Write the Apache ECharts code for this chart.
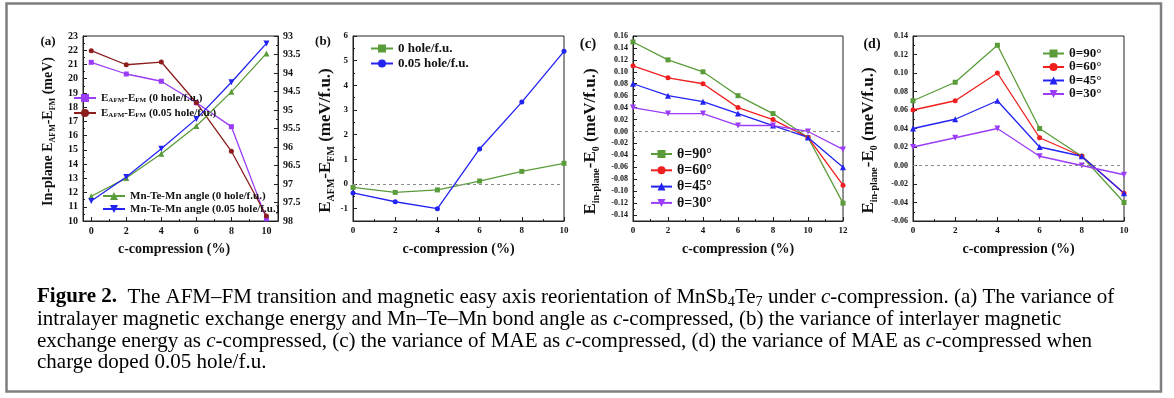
<!DOCTYPE html>
<html><head><meta charset="utf-8">
<script src="https://cdn.jsdelivr.net/npm/echarts@6/dist/echarts.min.js"></script>
<style>html,body{margin:0;padding:0;background:#fff}#c{width:1174px;height:398px}</style>
</head><body><div id="c"></div><script>
// ---------- data ----------
const compA = [0, 2, 4, 6, 8, 10];
const eAfm0 = [21.15, 20.33, 19.82, 18.31, 16.63, 10.15];
const eAfm005 = [21.97, 20.98, 21.17, 18.31, 14.9, 10.35];
const angle0 = [97.33, 96.84, 96.18, 95.43, 94.51, 93.47];
const angle005 = [97.46, 96.81, 96.05, 95.24, 94.25, 93.2];

const compB = [0, 2, 4, 6, 8, 10];
const inter0 = [-0.14, -0.34, -0.24, 0.12, 0.51, 0.84];
const inter005 = [-0.36, -0.72, -1.0, 1.42, 3.32, 5.38];

const compC = [0, 2, 4, 6, 8, 10, 12];
const maeC90 = [0.15, 0.12, 0.10, 0.06, 0.03, -0.01, -0.12];
const maeC60 = [0.11, 0.09, 0.08, 0.04, 0.02, -0.01, -0.09];
const maeC45 = [0.08, 0.06, 0.05, 0.03, 0.01, -0.01, -0.06];
const maeC30 = [0.04, 0.03, 0.03, 0.01, 0.01, 0.00, -0.03];

const compD = [0, 2, 4, 6, 8, 10];
const maeD90 = [0.07, 0.09, 0.13, 0.04, 0.01, -0.04];
const maeD60 = [0.06, 0.07, 0.10, 0.03, 0.01, -0.03];
const maeD45 = [0.04, 0.05, 0.07, 0.02, 0.01, -0.03];
const maeD30 = [0.02, 0.03, 0.04, 0.01, 0.00, -0.01];

const xAxisTitle = 'c-compression (%)';
const panelLabels = ['(a)', '(b)', '(c)', '(d)'];
const angleLabels = ['θ=90°', 'θ=60°', 'θ=45°', 'θ=30°'];
const captionLines = [
  [['b', 'Figure 2.'], ['r', '  The AFM–FM transition and magnetic easy axis reorientation of MnSb'], ['s', '4'], ['r', 'Te'], ['s', '7'], ['r', ' under '], ['i', 'c'], ['r', '-compression. (a) The variance of']],
  [['r', 'intralayer magnetic exchange energy and Mn–Te–Mn bond angle as '], ['i', 'c'], ['r', '-compressed, (b) the variance of interlayer magnetic']],
  [['r', 'exchange energy as '], ['i', 'c'], ['r', '-compressed, (c) the variance of MAE as '], ['i', 'c'], ['r', '-compressed, (d) the variance of MAE as '], ['i', 'c'], ['r', '-compressed when']],
  [['r', 'charge doped 0.05 hole/f.u.']]
];

// ---------- styling ----------
const FONT = '"Liberation Serif","Times New Roman",serif';
const GREEN = '#5a9c3a', RED = '#f01e1e', BLUE = '#2323f2', PURPLE = '#9b3cf8', DARKRED = '#8b1d1d';
const DOWN = 'path://M0,0 L10,0 L5,9 Z';
const INK = '#111';

function zip(xs, ys) { return xs.map((x, i) => [x, ys[i]]); }
function onStep(step) {
  return v => { const k = Math.round(v / step); return Math.abs(k * step - v) < 1e-7 ? (step < 1 ? (k * step).toFixed(2) : String(Math.round(k * step))) : ''; };
}
const axisCommon = (labelSize) => ({
  type: 'value',
  axisLine: { show: true, onZero: false, lineStyle: { color: '#222', width: 1 } },
  axisTick: { show: true, inside: true, length: 4, lineStyle: { color: '#222' } },
  minorTick: { show: true, splitNumber: 2, length: 2, lineStyle: { color: '#222' } },
  axisLabel: { fontFamily: FONT, fontWeight: 'bold', fontSize: labelSize, color: INK, margin: 5 },
  splitLine: { show: false }, minorSplitLine: { show: false }
});
function xAx(gi, extra) {
  const a = axisCommon(9);
  return Object.assign(a, {
    gridIndex: gi, name: xAxisTitle, nameLocation: 'middle', nameGap: 21,
    nameTextStyle: { fontFamily: FONT, fontWeight: 'bold', fontSize: 14, color: INK }
  }, extra);
}
const nameRich = (fs) => ({
  n: { fontFamily: FONT, fontWeight: 'bold', fontSize: fs, color: INK, lineHeight: fs + 4 },
  s: { fontFamily: FONT, fontWeight: 'bold', fontSize: Math.round(fs * 0.6), color: INK, verticalAlign: 'bottom', lineHeight: fs + 4 }
});
function yAx(gi, name, gap, fs, labelSize, shift, extra) {
  const a = axisCommon(labelSize);
  return Object.assign(a, {
    gridIndex: gi, name: name, nameLocation: 'middle', nameGap: gap, nameRotate: 90,
    nameTextStyle: { fontFamily: FONT, fontWeight: 'bold', fontSize: fs, color: INK, rich: nameRich(fs), padding: [0, 2 * shift, 0, 0] }
  }, extra);
}
function line(name, xi, yi, xs, ys, color, symbol, size, extra) {
  return Object.assign({
    name, type: 'line', xAxisIndex: xi, yAxisIndex: yi, data: zip(xs, ys),
    symbol, symbolSize: size, lineStyle: { color, width: 1.3 }, itemStyle: { color },
    animation: false, z: 3
  }, extra || {});
}
const zeroLine = { silent: true, symbol: 'none', label: { show: false }, animation: false,
  lineStyle: { type: [3, 3], color: '#8a8a8a', width: 1 }, data: [{ yAxis: 0 }] };

const legendText = {
  aP: '{n|E}{s|AFM}{n|-E}{s|FM}{n| (0 hole/f.u.)}',
  aR: '{n|E}{s|AFM}{n|-E}{s|FM}{n| (0.05 hole/f.u.)}',
  aG: '{n|Mn-Te-Mn angle (0 hole/f.u.)}',
  aB: '{n|Mn-Te-Mn angle (0.05 hole/f.u.)}',
  b0: '{n|0 hole/f.u.}', b5: '{n|0.05 hole/f.u.}',
  c90: '{n|' + angleLabels[0] + '}', c60: '{n|' + angleLabels[1] + '}', c45: '{n|' + angleLabels[2] + '}', c30: '{n|' + angleLabels[3] + '}',
  d90: '{n|' + angleLabels[0] + '}', d60: '{n|' + angleLabels[1] + '}', d45: '{n|' + angleLabels[2] + '}', d30: '{n|' + angleLabels[3] + '}'
};
function legend(data, left, top, fs, lh, gap, iw) {
  return {
    data, left, top, orient: 'vertical', padding: 0, itemGap: gap, itemWidth: iw, itemHeight: Math.min(lh, 10),
    selectedMode: false, formatter: n => legendText[n],
    textStyle: { fontFamily: FONT, fontWeight: 'bold', fontSize: fs, color: INK, lineHeight: lh,
      rich: { n: { fontFamily: FONT, fontWeight: 'bold', fontSize: fs, color: INK, lineHeight: lh },
              s: { fontFamily: FONT, fontWeight: 'bold', fontSize: Math.round(fs * 0.62), color: INK, verticalAlign: 'bottom', lineHeight: lh } } }
  };
}

// ---------- caption ----------
const cv = document.createElement('canvas').getContext('2d');
function fontOf(kind, size) {
  const w = kind === 'b' ? 'bold ' : '';
  const st = kind === 'i' ? 'italic ' : '';
  const sz = kind === 's' ? size * 0.68 : size;
  return st + w + sz + 'px ' + FONT;
}
function lineWidth(segs, size) {
  return segs.reduce((acc, [k, t]) => { cv.font = fontOf(k, size); return acc + cv.measureText(t).width; }, 0);
}
const w18 = lineWidth(captionLines[0], 18);
const capSize = Math.max(15, Math.min(21, 18 * 1090 / w18));
const capRich = {
  r: { fontFamily: FONT, fontSize: capSize, color: '#1a1a1a', lineHeight: capSize * 1.2 },
  b: { fontFamily: FONT, fontSize: capSize, fontWeight: 'bold', color: '#1a1a1a', lineHeight: capSize * 1.2 },
  i: { fontFamily: FONT, fontSize: capSize, fontStyle: 'italic', color: '#1a1a1a', lineHeight: capSize * 1.2 },
  s: { fontFamily: FONT, fontSize: capSize * 0.68, color: '#1a1a1a', verticalAlign: 'bottom', lineHeight: capSize * 1.2 }
};
const capY = [297, 319, 341, 362];
const captionGraphics = captionLines.map((segs, i) => ({
  type: 'text', x: 37, y: capY[i], silent: true,
  style: { text: segs.map(([k, t]) => '{' + k + '|' + t + '}').join(''), rich: capRich, align: 'left', verticalAlign: 'middle' }
}));
const labelPos = [[48, 42, 13], [323, 42, 13], [588, 44, 15], [872, 44, 14]];
const panelGraphics = panelLabels.map((t, i) => ({
  type: 'text', x: labelPos[i][0], y: labelPos[i][1], silent: true,
  style: { text: t, font: 'bold ' + labelPos[i][2] + 'px ' + FONT, fill: INK, align: 'center', verticalAlign: 'middle' }
}));

const option = {
  animation: false,
  backgroundColor: '#fff',
  grid: [
    { left: 83, top: 36, width: 195, height: 185, show: true, borderColor: '#222', borderWidth: 1, backgroundColor: 'transparent' },
    { left: 353, top: 36, width: 211, height: 185, show: true, borderColor: '#222', borderWidth: 1, backgroundColor: 'transparent' },
    { left: 633, top: 36, width: 210, height: 185, show: true, borderColor: '#222', borderWidth: 1, backgroundColor: 'transparent' },
    { left: 913, top: 36, width: 211, height: 185, show: true, borderColor: '#222', borderWidth: 1, backgroundColor: 'transparent' }
  ],
  xAxis: [
    xAx(0, { min: -0.47, max: 10.66, minInterval: 2, maxInterval: 2, axisLabel: Object.assign(axisCommon(10).axisLabel, { formatter: onStep(2) }), nameTextStyle: { fontFamily: FONT, fontWeight: 'bold', fontSize: 14, color: INK, padding: [0, 13, 0, 0] } }),
    xAx(1, { min: 0, max: 10, interval: 2 }),
    xAx(2, { min: 0, max: 12, interval: 2 }),
    xAx(3, { min: 0, max: 10, interval: 2 })
  ],
  yAxis: [
    yAx(0, '{n|In-plane E}{s|AFM}{n|-E}{s|FM}{n| (meV)}', 26, 14, 10, 3, { min: 10, max: 23, interval: 1 }),
    Object.assign(axisCommon(10), { gridIndex: 0, position: 'right', inverse: true, min: 93, max: 98, interval: 0.5 }),
    yAx(1, '{n|E}{s|AFM}{n|-E}{s|FM}{n| (meV/f.u.)}', 9, 17, 9, 12, { min: -1.5, max: 6, minInterval: 1, maxInterval: 1, axisLabel: Object.assign(axisCommon(9).axisLabel, { formatter: onStep(1) }) }),
    yAx(2, '{n|E}{s|in-plane}{n|-E}{s|0}{n| (meV/f.u.)}', 32, 17, 8, 13, { min: -0.15, max: 0.16, minInterval: 0.02, maxInterval: 0.02, axisLabel: Object.assign(axisCommon(8).axisLabel, { formatter: onStep(0.02) }) }),
    yAx(3, '{n|E}{s|in-plane}{n|-E}{s|0}{n| (meV/f.u.)}', 34, 17, 8, 12, { min: -0.06, max: 0.14, interval: 0.02, axisLabel: Object.assign(axisCommon(8).axisLabel, { formatter: v => v.toFixed(2) }) })
  ],
  legend: [
    legend(['aP', 'aR'], 73, 92, 11, 12, 3, 22),
    legend(['aG', 'aB'], 102, 190, 11, 12, 1, 22),
    legend(['b0', 'b5'], 370, 42, 13, 13, 2, 22),
    legend(['c90', 'c60', 'c45', 'c30'], 650, 147, 14, 14, 2.3, 21),
    legend(['d90', 'd60', 'd45', 'd30'], 1042, 47, 13, 11, 0.5, 21)
  ],
  series: [
    line('aP', 0, 0, compA, eAfm0, PURPLE, 'rect', 5),
    line('aR', 0, 0, compA, eAfm005, DARKRED, 'circle', 5),
    line('aG', 0, 1, compA, angle0, GREEN, 'triangle', 6),
    line('aB', 0, 1, compA, angle005, BLUE, DOWN, 6),
    line('b0', 1, 2, compB, inter0, GREEN, 'rect', 5, { markLine: zeroLine }),
    line('b5', 1, 2, compB, inter005, BLUE, 'circle', 5),
    line('c90', 2, 3, compC, maeC90, GREEN, 'rect', 5, { markLine: zeroLine }),
    line('c60', 2, 3, compC, maeC60, RED, 'circle', 5),
    line('c45', 2, 3, compC, maeC45, BLUE, 'triangle', 6),
    line('c30', 2, 3, compC, maeC30, PURPLE, DOWN, 6),
    line('d90', 3, 4, compD, maeD90, GREEN, 'rect', 5, { markLine: zeroLine }),
    line('d60', 3, 4, compD, maeD60, RED, 'circle', 5),
    line('d45', 3, 4, compD, maeD45, BLUE, 'triangle', 6),
    line('d30', 3, 4, compD, maeD30, PURPLE, DOWN, 6)
  ],
  graphic: [
    { type: 'rect', silent: true, shape: { x: 6.5, y: 3.5, width: 1154.5, height: 388 }, style: { fill: 'none', stroke: '#7f7f7f', lineWidth: 2.5 } },
    ...panelGraphics,
    ...captionGraphics
  ]
};
const chart = echarts.init(document.getElementById('c'), null, { renderer: 'canvas' });
chart.setOption(option);
</script></body></html>
